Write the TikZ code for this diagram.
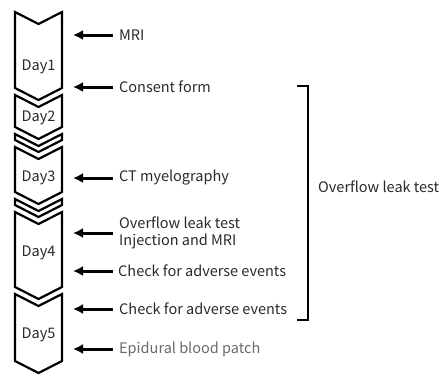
\documentclass[tikz,border=0pt]{standalone}
\usepackage{fontspec}
\setmainfont{Noto Sans CJK JP}
\usetikzlibrary{arrows.meta}
\definecolor{txt}{HTML}{2A2A2A}
\definecolor{txtlight}{HTML}{6A6A6A}
\tikzset{
  chev/.style={draw=black, line width=2.2pt, line join=miter, fill=white},
  daylbl/.style={font=\fontsize{14.5}{17}\selectfont, text=txt, inner sep=0pt},
  evt/.style={font=\fontsize{14.5}{17}\selectfont, text=txt, inner sep=0pt, anchor=west, align=left},
  arr/.style={line width=3pt, -{Latex[length=10pt,width=10pt]}},
  brk/.style={line width=2.2pt}
}
\newcommand{\chevshape}[2]{% top, bottom (in px, top-down)
  \draw[chev] (15,-#1) -- (38.5,-#1-12) -- (62,-#1) -- (62,-#2) -- (38.5,-#2-12) -- (15,-#2) -- cycle;}
\begin{document}
\begin{tikzpicture}[x=1pt,y=1pt]
\useasboundingbox (0,0) rectangle (444,-375);
% chevrons
\chevshape{12}{88}
\chevshape{95}{127}
\chevshape{134}{140}
\chevshape{147}{192}
\chevshape{199}{205}
\chevshape{212}{287}
\chevshape{294}{361}
% day labels
\node[daylbl] (d1) at (38.5,-67) {Day1};
\node[daylbl] (d2) at (38.5,-118) {Day2};
\node[daylbl] (d3) at (38.5,-178) {Day3};
\node[daylbl] (d4) at (38.5,-253) {Day4};
\node[daylbl] (d5) at (38.5,-335) {Day5};
% events
\node[evt] (e1) at (119,-35) {MRI};
\node[evt] (e2) at (119,-87) {Consent form};
\node[evt] (e3) at (119,-178) {CT myelography};
\node[evt] (e4) at (119,-233) {Overflow leak test\\Injection and MRI};
\node[evt] (e5) at (118,-271) {Check for adverse events};
\node[evt] (e6) at (119,-309) {Check for adverse events};
\node[evt, text=txtlight] (e7) at (119,-349) {Epidural blood patch};
% arrow tips
\coordinate (a1) at (73,-35);
\coordinate (a2) at (73,-87);
\coordinate (a3) at (73,-178);
\coordinate (a4) at (73,-233);
\coordinate (a5) at (73,-271);
\coordinate (a6) at (73,-309);
\coordinate (a7) at (73,-349);
\foreach \i in {1,...,7}{
  \draw[arr] (113,0 |- e\i.west) -- (a\i);
}
% bracket
\coordinate (b1) at (297,-86);
\coordinate (b2) at (308,-86);
\coordinate (b3) at (308,-320);
\coordinate (b4) at (297,-320);
\draw[brk] (b1) -- (b2) -- (b3) -- (b4);
\node[evt] (ol) at (318,-187) {Overflow leak test};
\end{tikzpicture}
\end{document}
